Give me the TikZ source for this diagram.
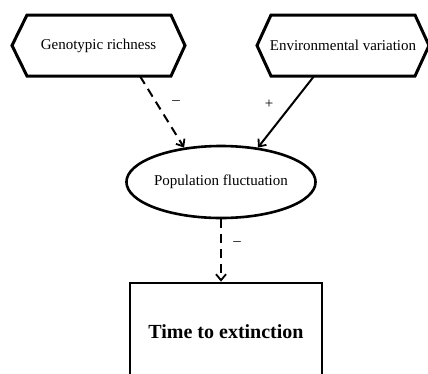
\documentclass[tikz,border=0pt]{standalone}
\usepackage{fontspec}
\setmainfont{Liberation Serif}
\usetikzlibrary{arrows.meta,shapes.geometric}
\begin{document}
\begin{tikzpicture}[x=1pt,y=-1pt,
  hexbox/.style={draw=none,minimum width=#1,minimum height=61pt,inner sep=0pt,font=\fontsize{15}{18}\selectfont},
  hexline/.style={line width=3pt,line join=miter},
  ellnode/.style={ellipse,draw,line width=2.6pt,minimum width=184pt,minimum height=72pt,inner sep=0pt,font=\fontsize{15}{18}\selectfont},
  endbox/.style={rectangle,draw,line width=2.8pt,minimum width=192pt,minimum height=98pt,inner sep=0pt,font=\bfseries\fontsize{20}{24}\selectfont},
  conn/.style={line width=2pt,-{Straight Barb[length=6pt,width=10pt,line width=1.8pt]}},
  dashconn/.style={conn,dash pattern=on 9pt off 6pt},
  sign/.style={font=\fontsize{15}{18}\selectfont,inner sep=0pt}
]
\clip (0,0) rectangle (428,373);
\fill[white] (0,0) rectangle (428,373);
% hexagon nodes
\node[hexbox=173pt] (gr) at (98.5,45.5) {Genotypic richness};
\node[hexbox=171pt] (ev) at (343,45.5) {Environmental variation};
\draw[hexline] (12,45.5) -- (27,15) -- (171,15) -- (185,45.5) -- (171,76) -- (27,76) -- cycle;
\draw[hexline] (257,45.5) -- (271,15) -- (415,15) -- (429,45.5) -- (415,76) -- (271,76) -- cycle;
% ellipse
\node[ellnode] (pf) at (221,182) {Population fluctuation};
% box
\node[endbox] (te) at (226,332) {Time to extinction};
% connectors
\draw[dashconn] ([xshift=41.5pt]gr.south) -- (pf.137);
\draw[conn] ([xshift=-29pt]ev.south) -- (pf.43);
\draw[dashconn] (pf.south) -- (pf.south |- te.north);
% signs
\node[sign] (s1) at (176,103) {–};
\node[sign] (s2) at (269,104) {+};
\node[sign] (s3) at (237,244) {–};
\end{tikzpicture}
\end{document}
